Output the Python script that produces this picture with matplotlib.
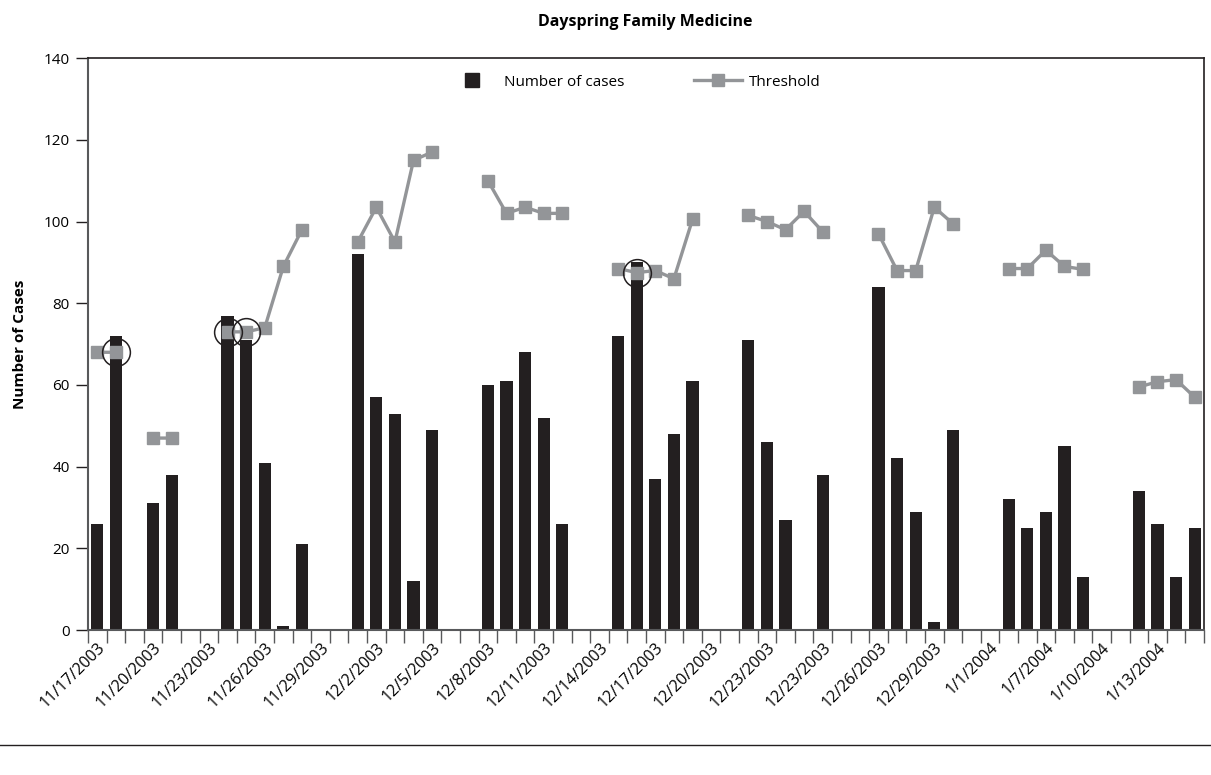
import numpy as np
import matplotlib
matplotlib.use("Agg")
from matplotlib import pyplot as plt
from matplotlib.lines import Line2D

plt.rcParams['font.family'] = ['Open Sans', 'DejaVu Sans']

# data: one slot per day on the axis, None = no value
cases = [26, 72, None, 31, 38, None, None, 77, 71, 41, 1, 21, None, None,
         92, 57, 53, 12, 49, None, None, 60, 61, 68, 52, 26, None, None,
         72, 90, 37, 48, 61, None, None, 71, 46, 27, None, 38, None, None,
         84, 42, 29, 2, 49, None, None, 32, 25, 29, 45, 13, None, None,
         34, 26, 13, 25]
threshold = [68, 68, None, 47, 47, None, None, 73, 73, 74, 89, 98, None, None,
             95, 103.5, 95, 115, 117, None, None, 110, 102, 103.5, 102, 102, None, None,
             88.5, 87.5, 88, 86, 100.5, None, None, 101.5, 100, 98, 102.5, 97.5, None, None,
             97, 88, 88, 103.5, 99.5, None, None, 88.5, 88.5, 93, 89, 88.3, None, None,
             59.5, 60.8, 61.3, 57]
alerts = [1, 7, 8, 29]
tick_labels = ['11/17/2003', '11/20/2003', '11/23/2003', '11/26/2003', '11/29/2003',
               '12/2/2003', '12/5/2003', '12/8/2003', '12/11/2003', '12/14/2003',
               '12/17/2003', '12/20/2003', '12/23/2003', '12/23/2003', '12/26/2003',
               '12/29/2003', '1/1/2004', '1/7/2004', '1/10/2004', '1/13/2004']

n = len(cases)
x = np.arange(n)
c = np.array([np.nan if v is None else v for v in cases], dtype=float)
t = np.array([np.nan if v is None else v for v in threshold], dtype=float)

dark = '#231f20'
grey = '#939598'

fig = plt.figure(figsize=(12.11, 7.75), dpi=100)
ax = fig.add_axes([0.0727, 0.187, 0.9215, 0.738])

ax.bar(x, np.nan_to_num(c), width=0.66, color=dark, zorder=2)
ax.plot(x, t, color=grey, lw=2.4, marker='s', ms=9, mec=grey, mfc=grey, zorder=3)
ax.plot(x[alerts], t[alerts], ls='none', marker='o', ms=20, mfc='none',
        mec=dark, mew=1.1, zorder=4)

ax.set_xlim(-0.5, n - 0.5)
ax.set_ylim(0, 140)
ax.set_yticks(np.arange(0, 141, 20))
ax.tick_params(axis='y', direction='out', length=9, width=1, labelsize=11,
               color=dark, pad=4)

# category ticks at the boundaries, labels every 3rd slot
ax.set_xticks(np.arange(-0.5, n, 1), minor=True)
ax.set_xticks(np.arange(0, n, 3))
ax.set_xticklabels(tick_labels, rotation=45, ha='right', rotation_mode='anchor',
                   fontsize=11.5)
ax.tick_params(axis='x', which='major', length=0, pad=7)
ax.tick_params(axis='x', which='minor', direction='out', length=9, width=1,
               color='#58595b')

for s in ['left', 'bottom']:
  ax.spines[s].set_color('#58595b')
  ax.spines[s].set_linewidth(1.5)
for s in ['top', 'right']:
  ax.spines[s].set_color(dark)
  ax.spines[s].set_linewidth(1.2)

ax.set_ylabel('Number of Cases', fontsize=11, fontweight='bold', labelpad=12)
fig.text(0.533, 0.971, 'Dayspring Family Medicine', ha='center', va='center',
         fontsize=11.5, fontweight='bold')

handles = [
  Line2D([], [], ls='none', marker='s', ms=10, color=dark),
  Line2D([], [], color=grey, lw=2.4, marker='s', ms=9),
]
ax.legend(handles, ['Number of cases', 'Threshold'], loc='upper center',
          bbox_to_anchor=(0.49, 0.995), ncol=2, frameon=False, fontsize=11,
          columnspacing=4.6, handlelength=3.1, handletextpad=0.5)

fig.add_artist(Line2D([0, 1], [0.039, 0.039], color=dark, lw=1,
                      transform=fig.transFigure))

fig.savefig('out.png', dpi=100)
